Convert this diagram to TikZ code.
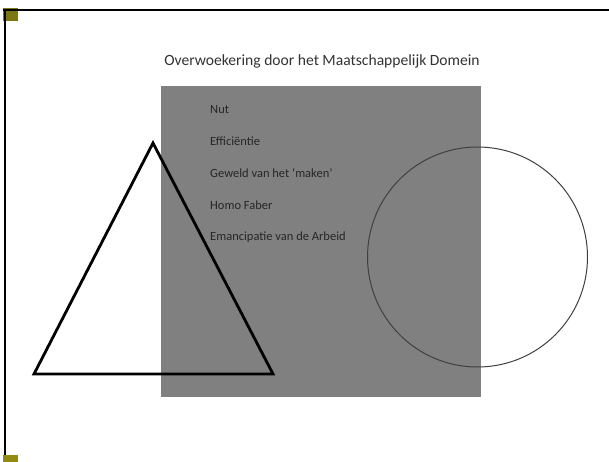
\documentclass[tikz,border=0pt]{standalone}
\usepackage{fontspec}
\setmainfont{Carlito}
\begin{document}
\begin{tikzpicture}[x=1pt,y=-1pt,
  item/.style={anchor=west,inner sep=0pt,font=\fontsize{12.5}{14}\selectfont,text=black!85},
  frameline/.style={line width=2.2pt,black}]
\useasboundingbox (0,0) rectangle (609,462);
\fill[white] (0,0) rectangle (609,462);
% corner squares
\fill[olive!85!black] (3,8) rectangle (18,21);
\draw[frameline] (3,10) -- (609,10);
\draw[frameline] (5,9) -- (5,462);
\fill[olive!85!yellow!90!black] (3,455) rectangle (18,462);
% gray domain
\fill[gray] (161,86) rectangle (481,397);
% title
\node[font=\fontsize{15.6}{17}\selectfont,text=black!80] (title) at (322,61) {Overwoekering door het Maatschappelijk Domein};
% items
\node[item] (i1) at (210,110) {Nut};
\node[item] (i2) at (210,141) {Efficiëntie};
\node[item] (i3) at (210,173) {Geweld van het ‘maken’};
\node[item] (i4) at (210,205) {Homo Faber};
\node[item] (i5) at (210,237) {Emancipatie van de Arbeid};
% triangle
\draw[line width=2.8pt,line join=miter] (153,143) -- (273,374) -- (34,374) -- cycle;
% circle
\draw[line width=1pt,black!75] (477.5,257) circle[radius=110];
\end{tikzpicture}
\end{document}
